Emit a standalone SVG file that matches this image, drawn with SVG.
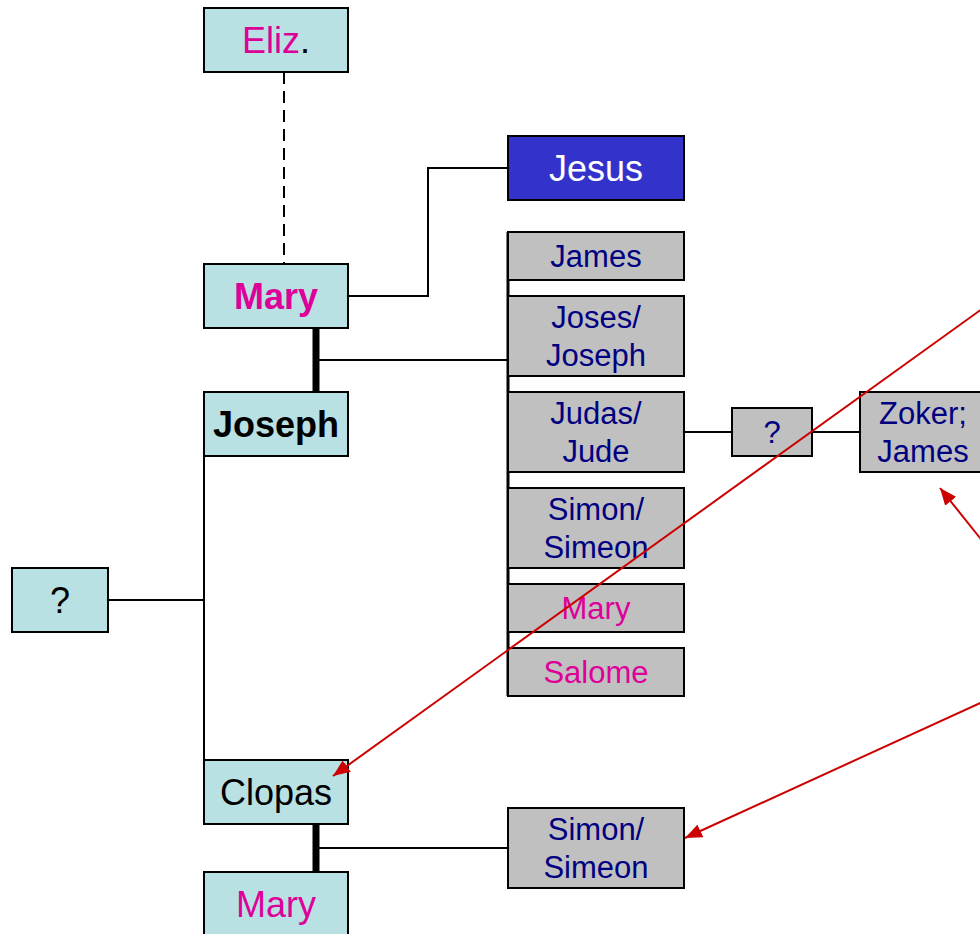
<svg xmlns="http://www.w3.org/2000/svg" width="980" height="934" viewBox="0 0 980 934">
<style>
.teal{fill:#b9e0e3;stroke:#000;stroke-width:2}
.gray{fill:#c0c0c0;stroke:#000;stroke-width:2}
.blue{fill:#3333cc;stroke:#000;stroke-width:2}
text{font-family:"Liberation Sans",Arial,sans-serif;text-anchor:middle}
.big{font-size:36px}
.sm{font-size:31px}
.mag{fill:#dd0099}
.navy{fill:#000080}
.blk{fill:#000}
.wht{fill:#fff}
.b{font-weight:bold}
.ln{fill:none;stroke:#000;stroke-width:2}
.thick{fill:none;stroke:#000;stroke-width:7}
.red{fill:none;stroke:#cc0000;stroke-width:2}
</style>
<defs>
<marker id="ah" markerUnits="userSpaceOnUse" markerWidth="18" markerHeight="14" refX="17" refY="7" orient="auto">
<path d="M0,0 L17,7 L0,14 z" fill="#cc0000"/>
</marker>
</defs>
<g id="connectors">
<line class="ln" x1="284" y1="72" x2="284" y2="264" stroke-dasharray="12,7"/>
<polyline class="ln" points="348,296 428,296 428,168 508,168"/>
<line class="thick" x1="316" y1="328" x2="316" y2="392"/>
<line class="ln" x1="316" y1="360" x2="508" y2="360"/>
<line class="ln" x1="508" y1="232" x2="508" y2="696" style="stroke-width:3"/>
<line class="ln" x1="684" y1="432" x2="732" y2="432"/>
<line class="ln" x1="812" y1="432" x2="860" y2="432"/>
<line class="ln" x1="108" y1="600" x2="204" y2="600"/>
<line class="ln" x1="204" y1="456" x2="204" y2="760"/>
<line class="thick" x1="316" y1="824" x2="316" y2="872"/>
<line class="ln" x1="316" y1="848" x2="508" y2="848"/>
</g>
<g id="eliz"><rect class="teal" x="204" y="8" width="144" height="64"/><text class="big" x="276" y="53"><tspan class="mag">Eliz</tspan><tspan class="blk">.</tspan></text></g>
<g id="jesus"><rect class="blue" x="508" y="136" width="176" height="64"/><text class="big wht" x="596" y="181">Jesus</text></g>
<g id="mary1"><rect class="teal" x="204" y="264" width="144" height="64"/><text class="big mag b" x="276" y="309">Mary</text></g>
<g id="joseph"><rect class="teal" x="204" y="392" width="144" height="64"/><text class="big blk b" x="276" y="437">Joseph</text></g>
<g id="james"><rect class="gray" x="508" y="232" width="176" height="48"/><text class="sm navy" x="596" y="267">James</text></g>
<g id="joses"><rect class="gray" x="508" y="296" width="176" height="80"/><text class="sm navy" x="596" y="328">Joses/</text><text class="sm navy" x="596" y="366">Joseph</text></g>
<g id="judas"><rect class="gray" x="508" y="392" width="176" height="80"/><text class="sm navy" x="596" y="424">Judas/</text><text class="sm navy" x="596" y="462">Jude</text></g>
<g id="simon1"><rect class="gray" x="508" y="488" width="176" height="80"/><text class="sm navy" x="596" y="520">Simon/</text><text class="sm navy" x="596" y="558">Simeon</text></g>
<g id="mary2"><rect class="gray" x="508" y="584" width="176" height="48"/><text class="sm mag" x="596" y="619">Mary</text></g>
<g id="salome"><rect class="gray" x="508" y="648" width="176" height="48"/><text class="sm mag" x="596" y="683">Salome</text></g>
<g id="q2"><rect class="gray" x="732" y="408" width="80" height="48"/><text class="sm navy" x="772" y="443">?</text></g>
<g id="zoker"><rect class="gray" x="860" y="392" width="128" height="80"/><text class="sm navy" x="923" y="424">Zoker;</text><text class="sm navy" x="923" y="462">James</text></g>
<g id="q1"><rect class="teal" x="12" y="568" width="96" height="64"/><text class="big blk" x="60" y="613">?</text></g>
<g id="clopas"><rect class="teal" x="204" y="760" width="144" height="64"/><text class="big blk" x="276" y="805">Clopas</text></g>
<g id="simon2"><rect class="gray" x="508" y="808" width="176" height="80"/><text class="sm navy" x="596" y="840">Simon/</text><text class="sm navy" x="596" y="878">Simeon</text></g>
<g id="mary3"><rect class="teal" x="204" y="872" width="144" height="70"/><text class="big mag" x="276" y="917">Mary</text></g>
<g id="arrows">
<line class="red" x1="1000" y1="296" x2="333" y2="776" marker-end="url(#ah)"/>
<line class="red" x1="1000" y1="563" x2="940" y2="488" marker-end="url(#ah)"/>
<line class="red" x1="1000" y1="694" x2="685" y2="838" marker-end="url(#ah)"/>
</g>
</svg>
